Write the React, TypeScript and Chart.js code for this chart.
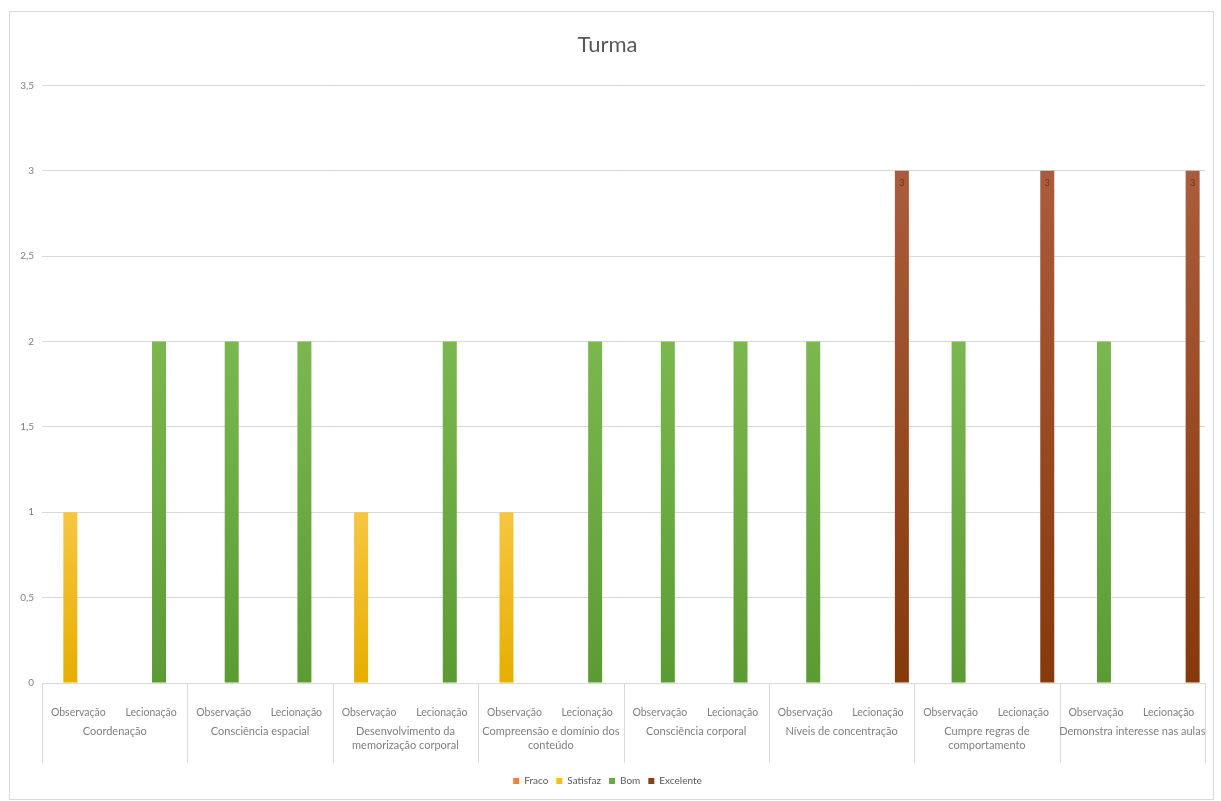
import React, { useEffect, useRef } from "react";
import { Chart, registerables } from "chart.js";

Chart.register(...registerables);

// Sub-categories along the x axis (two per skill group)
const subLabels: string[] = [
  "Observação", "Lecionação",
  "Observação", "Lecionação",
  "Observação", "Lecionação",
  "Observação", "Lecionação",
  "Observação", "Lecionação",
  "Observação", "Lecionação",
  "Observação", "Lecionação",
  "Observação", "Lecionação",
];

// Skill groups (second level of the x axis); each entry is a list of lines
const groupLabels: string[][] = [
  ["Coordenação"],
  ["Consciência espacial"],
  ["Desenvolvimento da", "memorização corporal"],
  ["Compreensão e domínio dos", "conteúdo"],
  ["Consciência corporal"],
  ["Níveis de concentração"],
  ["Cumpre regras de", "comportamento"],
  ["Demonstra interesse nas aulas"],
];

const seriesNames: string[] = ["Fraco", "Satisfaz", "Bom", "Excelente"];

const fracoValues: number[] = [0, 0, 0, 0, 0, 0, 0, 0, 0, 0, 0, 0, 0, 0, 0, 0];
const satisfazValues: number[] = [1, 0, 0, 0, 1, 0, 1, 0, 0, 0, 0, 0, 0, 0, 0, 0];
const bomValues: number[] = [0, 2, 2, 2, 0, 2, 0, 2, 2, 2, 2, 0, 2, 0, 2, 0];
const excelenteValues: number[] = [0, 0, 0, 0, 0, 0, 0, 0, 0, 0, 0, 3, 0, 3, 0, 3];

const yTicks: number[] = [0, 0.5, 1, 1.5, 2, 2.5, 3, 3.5];

// Colours: [top of bar, bottom of bar, legend swatch]
const seriesColors: [string, string, string][] = [
  ["#F0905A", "#D9691F", "#E8823F"],
  ["#F7C640", "#E6AE00", "#F5BE1E"],
  ["#7AB84F", "#5C9A34", "#6AAA45"],
  ["#AA5C3C", "#86390A", "#8A3F1C"],
];

const FONT = "Lato, 'Open Sans', sans-serif";
const GREY_TEXT = "#7f7f7f";
const LINE = "#d9d9d9";

function barGradient(top: string, bottom: string) {
  return (ctx: any) => {
    const chart = ctx.chart;
    if (!chart.chartArea || ctx.type !== "data") return bottom;
    const v = Number(ctx.raw) || 0;
    const ys = chart.scales.y;
    const y0 = ys.getPixelForValue(0);
    const y1 = ys.getPixelForValue(v);
    if (!(y0 > y1)) return bottom;
    const g = chart.ctx.createLinearGradient(0, y1, 0, y0);
    g.addColorStop(0, top);
    g.addColorStop(1, bottom);
    return g;
  };
}

// Outer frame of the chart
const framePlugin = {
  id: "frame",
  beforeDraw(chart: any) {
    const c = chart.ctx;
    c.save();
    c.fillStyle = "#ffffff";
    c.fillRect(0, 0, chart.width, chart.height);
    c.strokeStyle = LINE;
    c.lineWidth = 1;
    c.strokeRect(9.5, 11.5, 1204, 788);
    c.restore();
  },
};

// Group labels and the dividers of the two-level category axis
const groupAxisPlugin = {
  id: "groupAxis",
  afterDraw(chart: any) {
    const x = chart.scales.x;
    const area = chart.chartArea;
    const c = chart.ctx;
    const n = subLabels.length;
    const catW = (area.right - area.left) / n;
    c.save();
    c.strokeStyle = LINE;
    c.lineWidth = 1;
    for (let g = 0; g <= groupLabels.length; g++) {
      const px = Math.round(area.left + g * 2 * catW) + 0.5;
      c.beginPath();
      c.moveTo(px, area.bottom);
      c.lineTo(px, area.bottom + 80);
      c.stroke();
    }
    c.fillStyle = GREY_TEXT;
    c.font = `11px ${FONT}`;
    c.textAlign = "center";
    c.textBaseline = "middle";
    groupLabels.forEach((lines, g) => {
      const cx = (x.getPixelForValue(g * 2) + x.getPixelForValue(g * 2 + 1)) / 2;
      lines.forEach((t, i) => {
        c.fillText(t, cx, area.bottom + 48 + i * 14);
      });
    });
    c.restore();
  },
};

// Value label inside the top of the "Excelente" bars
const valueLabelPlugin = {
  id: "valueLabels",
  afterDatasetsDraw(chart: any) {
    const c = chart.ctx;
    const meta = chart.getDatasetMeta(3);
    c.save();
    c.font = `9px ${FONT}`;
    c.fillStyle = "rgba(70,25,5,0.6)";
    c.textAlign = "center";
    c.textBaseline = "middle";
    meta.data.forEach((el: any, i: number) => {
      const v = excelenteValues[i];
      if (v > 0) c.fillText(String(v), el.x, el.y + 12);
    });
    c.restore();
  },
};

export default function App() {
  const canvasRef = useRef<HTMLCanvasElement | null>(null);

  useEffect(() => {
    if (!canvasRef.current) return;
    const values = [fracoValues, satisfazValues, bomValues, excelenteValues];
    const chart = new Chart(canvasRef.current, {
      type: "bar",
      data: {
        labels: subLabels,
        datasets: seriesNames.map((name, i) => ({
          label: name,
          data: values[i],
          backgroundColor: barGradient(seriesColors[i][0], seriesColors[i][1]),
          borderWidth: 0,
          categoryPercentage: 0.88,
          barPercentage: 0.875,
        })),
      },
      options: {
        responsive: false,
        animation: false,
        devicePixelRatio: 1,
        layout: { padding: { left: 10, right: 16, top: 0, bottom: 5 } },
        plugins: {
          title: {
            display: true,
            text: "Turma",
            color: "#595959",
            font: { family: FONT, size: 22, weight: "normal" },
            padding: { top: 32, bottom: 27 },
          },
          legend: {
            display: true,
            position: "bottom",
            labels: {
              color: "#595959",
              font: { family: FONT, size: 10 },
              boxWidth: 6,
              boxHeight: 6,
              padding: 8,
              generateLabels: (ch: any) => {
                const items = Chart.defaults.plugins.legend.labels.generateLabels(ch);
                return items.map((it: any, i: number) => ({
                  ...it,
                  fillStyle: seriesColors[i][2],
                  strokeStyle: seriesColors[i][2],
                  lineWidth: 0,
                }));
              },
            },
          },
          tooltip: { enabled: false },
        },
        scales: {
          x: {
            grid: { display: false },
            border: { display: true, color: LINE },
            ticks: {
              color: GREY_TEXT,
              font: { family: FONT, size: 10.5 },
              maxRotation: 0,
              autoSkip: false,
              padding: 15,
            },
            afterFit: (s: any) => {
              s.height = 85;
            },
          },
          y: {
            min: 0,
            max: 3.5,
            afterBuildTicks: (s: any) => {
              s.ticks = yTicks.map((v) => ({ value: v }));
            },
            grid: { color: LINE, drawTicks: false },
            border: { display: false },
            ticks: {
              color: GREY_TEXT,
              font: { family: FONT, size: 10 },
              padding: 8,
              callback: (v: any) => String(v).replace(".", ","),
            },
            afterFit: (s: any) => {
              s.width = 32;
            },
          },
        },
      },
      plugins: [framePlugin, groupAxisPlugin, valueLabelPlugin],
    });
    return () => chart.destroy();
  }, []);

  return (
    <div style={{ position: "absolute", left: 0, top: 0, width: 1221, height: 801 }}>
      <canvas ref={canvasRef} width={1221} height={801} style={{ display: "block" }} />
    </div>
  );
}
